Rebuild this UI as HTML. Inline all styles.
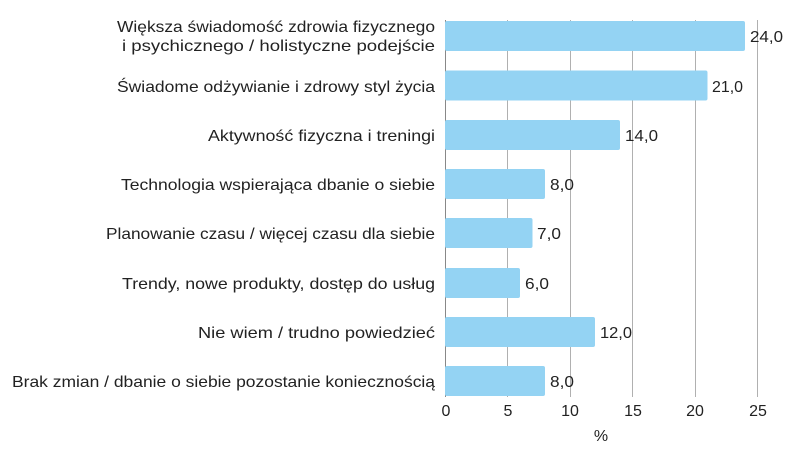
<!DOCTYPE html>
<html><head><meta charset="utf-8"><style>
html,body{margin:0;padding:0;background:#fff;}
svg{display:block;font-family:"Liberation Sans",sans-serif;}
</style></head><body>
<svg width="811" height="462" viewBox="0 0 811 462">
<g stroke="#b0b0b0" stroke-width="1">
<line x1="507.5" y1="20" x2="507.5" y2="397"/>
<line x1="570.5" y1="20" x2="570.5" y2="397"/>
<line x1="632.5" y1="20" x2="632.5" y2="397"/>
<line x1="695.5" y1="20" x2="695.5" y2="397"/>
<line x1="757.5" y1="20" x2="757.5" y2="397"/>
<line x1="445.5" y1="20" x2="445.5" y2="397" stroke="#888"/>
</g>
<g fill="#94d3f3">
<rect x="445" y="21" width="300" height="30" rx="2"/>
<rect x="445" y="70.5" width="262.5" height="30" rx="2"/>
<rect x="445" y="120" width="175" height="30" rx="2"/>
<rect x="445" y="169" width="100" height="30" rx="2"/>
<rect x="445" y="218" width="87.5" height="30" rx="2"/>
<rect x="445" y="268" width="75" height="30" rx="2"/>
<rect x="445" y="317" width="150" height="30" rx="2"/>
<rect x="445" y="366" width="100" height="30" rx="2"/>
</g>
<g font-size="16" fill="#222" lengthAdjust="spacingAndGlyphs">
<text x="750" y="42" textLength="33" lengthAdjust="spacingAndGlyphs">24,0</text>
<text x="712" y="92" textLength="31" lengthAdjust="spacingAndGlyphs">21,0</text>
<text x="625" y="141" textLength="33" lengthAdjust="spacingAndGlyphs">14,0</text>
<text x="550" y="190" textLength="24" lengthAdjust="spacingAndGlyphs">8,0</text>
<text x="537" y="239" textLength="24" lengthAdjust="spacingAndGlyphs">7,0</text>
<text x="525" y="289" textLength="24" lengthAdjust="spacingAndGlyphs">6,0</text>
<text x="600" y="338" textLength="32" lengthAdjust="spacingAndGlyphs">12,0</text>
<text x="550" y="387" textLength="24" lengthAdjust="spacingAndGlyphs">8,0</text>
</g>
<g font-size="16" fill="#222">
<text x="117" y="32" textLength="318" lengthAdjust="spacingAndGlyphs">Większa świadomość zdrowia fizycznego</text>
<text x="122" y="51" textLength="313" lengthAdjust="spacingAndGlyphs">i psychicznego / holistyczne podejście</text>
<text x="117" y="92" textLength="318" lengthAdjust="spacingAndGlyphs">Świadome odżywianie i zdrowy styl życia</text>
<text x="208" y="141" textLength="227" lengthAdjust="spacingAndGlyphs">Aktywność fizyczna i treningi</text>
<text x="121" y="190" textLength="314" lengthAdjust="spacingAndGlyphs">Technologia wspierająca dbanie o siebie</text>
<text x="106" y="239" textLength="329" lengthAdjust="spacingAndGlyphs">Planowanie czasu / więcej czasu dla siebie</text>
<text x="122" y="289" textLength="313" lengthAdjust="spacingAndGlyphs">Trendy, nowe produkty, dostęp do usług</text>
<text x="198" y="338" textLength="237" lengthAdjust="spacingAndGlyphs">Nie wiem / trudno powiedzieć</text>
<text x="12" y="387" textLength="423" lengthAdjust="spacingAndGlyphs">Brak zmian / dbanie o siebie pozostanie koniecznością</text>
</g>
<g font-size="16" fill="#222" text-anchor="middle">
<text x="446" y="416">0</text>
<text x="508" y="416">5</text>
<text x="570" y="416">10</text>
<text x="633" y="416">15</text>
<text x="695" y="416">20</text>
<text x="758" y="416">25</text>
<text x="601" y="441">%</text>
</g>
</svg>
</body></html>
